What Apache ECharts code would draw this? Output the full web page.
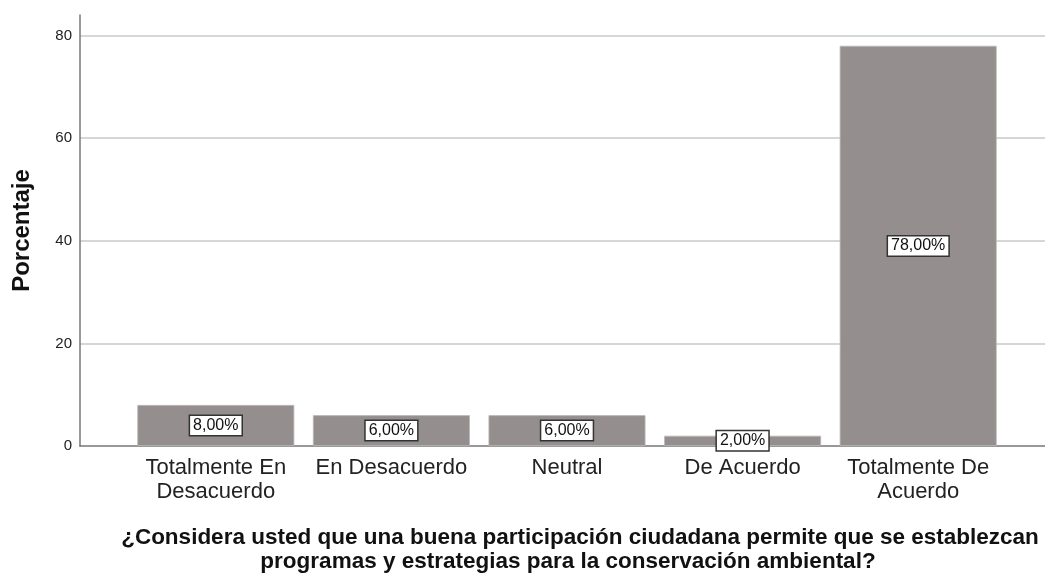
<!DOCTYPE html>
<html>
<head>
<meta charset="utf-8">
<script src="https://cdn.jsdelivr.net/npm/echarts@6/dist/echarts.min.js"></script>
<style>
  html, body { margin: 0; padding: 0; background: #fff; }
  #chart { width: 1045px; height: 574px; }
</style>
</head>
<body>
<div id="chart"></div>
<script>
const categories = ['Totalmente En\nDesacuerdo', 'En Desacuerdo', 'Neutral', 'De Acuerdo', 'Totalmente De\nAcuerdo'];
const percentages = [8, 6, 6, 2, 78];
const yTicks = [0, 20, 40, 60, 80];

const font = '"Liberation Sans", Arial, sans-serif';
const yMax = 84;

const chart = echarts.init(document.getElementById('chart'));
chart.setOption({
    animation: false,
    textStyle: { fontFamily: font },
    grid: [
        // fondo: rejilla y eje Y a todo lo ancho
        { left: 80, right: 0, top: 15, bottom: 128 },
        // barras
        { left: 128, right: 39, top: 15, bottom: 128 }
    ],
    xAxis: [
        {
            gridIndex: 0, type: 'category', data: [''],
            axisLine: { lineStyle: { color: '#777', width: 1.5 } },
            axisTick: { show: false }, axisLabel: { show: false }
        },
        {
            gridIndex: 1, type: 'category', data: categories,
            axisLine: { show: false }, axisTick: { show: false },
            axisLabel: { color: '#222', fontSize: 22, lineHeight: 24, margin: 10, interval: 0 }
        }
    ],
    yAxis: [
        {
            gridIndex: 0, type: 'value', min: 0, max: yMax, interval: 20,
            name: 'Porcentaje', nameLocation: 'middle', nameGap: 46, nameRotate: 90,
            nameTextStyle: { fontWeight: 'bold', fontSize: 24, color: '#111' },
            axisLine: { show: true, lineStyle: { color: '#777', width: 1.5 } },
            axisTick: { show: false },
            axisLabel: {
                color: '#222', fontSize: 15, margin: 8, showMaxLabel: false,
                formatter: v => yTicks.includes(v) ? String(v) : ''
            },
            splitLine: { show: true, showMinLine: false, showMaxLine: false, lineStyle: { color: '#c8c8c8', width: 1.5 } }
        },
        {
            gridIndex: 1, type: 'value', min: 0, max: yMax, interval: 20,
            axisLine: { show: false }, axisTick: { show: false },
            axisLabel: { show: false }, splitLine: { show: false }
        }
    ],
    graphic: [
        {
            type: 'text', x: 580, y: 526,
            style: {
                text: '¿Considera usted que una buena participación ciudadana permite que se establezcan',
                fill: '#111', font: 'bold 22.5px ' + font, align: 'center'
            }
        },
        {
            type: 'text', x: 568, y: 550,
            style: {
                text: 'programas y estrategias para la conservación ambiental?',
                fill: '#111', font: 'bold 22.5px ' + font, align: 'center'
            }
        }
    ],
    series: [{
        type: 'bar', xAxisIndex: 1, yAxisIndex: 1,
        data: percentages,
        barWidth: 157,
        itemStyle: { color: '#948f8e', borderColor: '#bdb9b9', borderWidth: 0.8 },
        label: {
            show: true, position: 'inside', color: '#111', fontSize: 16,
            backgroundColor: '#fff', borderColor: '#333', borderWidth: 1.5,
            padding: [2, 3, 1, 3],
            formatter: p => p.value.toFixed(2).replace('.', ',') + '%'
        }
    }]
});
</script>
</body>
</html>
